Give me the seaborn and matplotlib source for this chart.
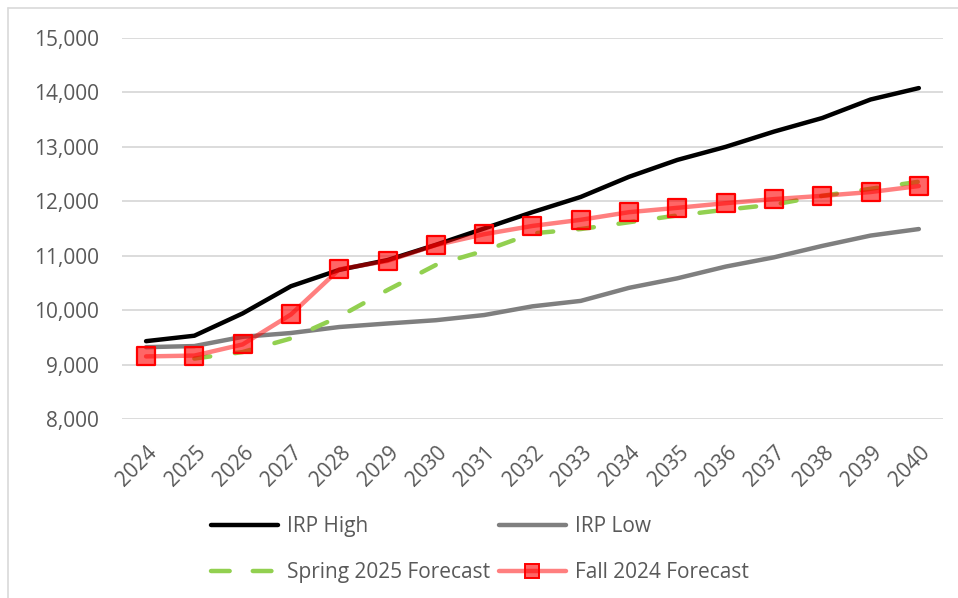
import numpy as np
import pandas as pd
import matplotlib
matplotlib.use("Agg")
import matplotlib.pyplot as plt
import matplotlib.transforms as mtransforms
import seaborn as sns
from matplotlib.lines import Line2D

years = list(range(2024, 2041))
irp_high = [9430, 9530, 9940, 10440, 10740, 10920, 11200, 11500, 11800, 12080,
            12450, 12760, 13000, 13280, 13530, 13870, 14080]
irp_low = [9320, 9340, 9510, 9580, 9690, 9755, 9815, 9910, 10070, 10170,
           10410, 10585, 10800, 10970, 11180, 11370, 11490]
spring_2025 = [np.nan, 9110, 9230, 9480, 9880, 10370, 10830, 11090, 11410, 11490,
               11615, 11740, 11845, 11940, 12100, 12230, 12360]
fall_2024 = [9150, 9165, 9370, 9920, 10750, 10905, 11195, 11395, 11547, 11660,
             11800, 11880, 11965, 12040, 12100, 12170, 12280]
y_ticks = [8000, 9000, 10000, 11000, 12000, 13000, 14000, 15000]

sns.set_theme(style="white")
plt.rcParams['font.family'] = ['Open Sans', 'DejaVu Sans']
plt.rcParams['xtick.major.pad'] = 21
plt.rcParams['ytick.major.pad'] = 16.5
txt = '#595959'
FS = 15

fig = plt.figure(figsize=(9.58, 5.98), dpi=100)
W, H = 958, 598
ax = fig.add_axes([121.9 / W, 1 - 419 / H, (943 - 121.9) / W, (419 - 38) / H])

df = pd.DataFrame({'year': years, 'high': irp_high, 'low': irp_low,
                   'spring': spring_2025, 'fall': fall_2024})

sns.lineplot(data=df, x='year', y='high', ax=ax, color='black', lw=3.2,
             solid_capstyle='round', zorder=3)
sns.lineplot(data=df, x='year', y='low', ax=ax, color='#7f7f7f', lw=3.2,
             solid_capstyle='round', zorder=3)
sns.lineplot(data=df, x='year', y='spring', ax=ax, color='#92D050', lw=3.2,
             zorder=4)
ax.lines[-1].set_dashes([3.6, 5.6])
ax.lines[-1].set_dash_capstyle('round')
sns.lineplot(data=df, x='year', y='fall', ax=ax, color=(1, 0, 0, 0.5), lw=3.2,
             solid_capstyle='round', zorder=5)
sns.scatterplot(data=df, x='year', y='fall', ax=ax, marker='s', s=150,
                facecolor=(1, 0, 0, 0.6), edgecolor='red', linewidth=1.6, zorder=6)

ax.set_xlim(2023.5, 2040.5)
ax.set_ylim(8000, 15000)
ax.set_yticks(y_ticks)
ax.set_yticklabels([f"{v:,}" for v in y_ticks], fontsize=FS, color=txt)
ax.set_xticks(years)
ax.set_xticklabels([str(y) for y in years], fontsize=FS, color=txt,
                   rotation=45, ha='right', va='center', rotation_mode='anchor')
ax.tick_params(axis='x', length=0, pad=21)
ax.tick_params(axis='y', length=0, pad=16.5)
xoff = mtransforms.ScaledTranslation(8.0 / 100, -1 / 100, fig.dpi_scale_trans)
for lab in ax.get_xticklabels():
    lab.set_transform(lab.get_transform() + xoff)
ax.grid(axis='y', color='#d9d9d9', lw=1.3)
ax.set_axisbelow(True)
for s in ax.spines.values():
    s.set_visible(False)
ax.set_xlabel('')
ax.set_ylabel('')

h_high = Line2D([], [], color='black', lw=3.2, solid_capstyle='round')
h_spring = Line2D([], [], color='#92D050', lw=3.2, dashes=[4.2, 5.2],
                  dash_capstyle='round')
h_low = Line2D([], [], color='#7f7f7f', lw=3.2, solid_capstyle='round')
h_fall = Line2D([], [], color=(1, 0, 0, 0.5), lw=3.2, marker='s', markersize=10,
                markerfacecolor=(1, 0, 0, 0.6), markeredgecolor='red',
                markeredgewidth=1.4)

common = dict(loc='center left', frameon=False, fontsize=FS, handlelength=3.2,
              handletextpad=0.43, labelspacing=1.18, borderpad=0, borderaxespad=0)
leg1 = fig.legend([h_high, h_spring], ['IRP High', 'Spring 2025 Forecast'],
                  bbox_to_anchor=(211 / W, 1 - 549.5 / H), **common)
leg2 = fig.legend([h_low, h_fall], ['IRP Low', 'Fall 2024 Forecast'],
                  bbox_to_anchor=(499 / W, 1 - 549.5 / H), **common)
for lg in (leg1, leg2):
    for t in lg.get_texts():
        t.set_color(txt)

# chart border (top and left visible)
fig.add_artist(Line2D([8 / W, 1], [1 - 8 / H, 1 - 8 / H], color='#d9d9d9', lw=1.2))
fig.add_artist(Line2D([8 / W, 8 / W], [1 - 8 / H, 0], color='#d9d9d9', lw=1.2))

fig.savefig('out.png', dpi=100)
